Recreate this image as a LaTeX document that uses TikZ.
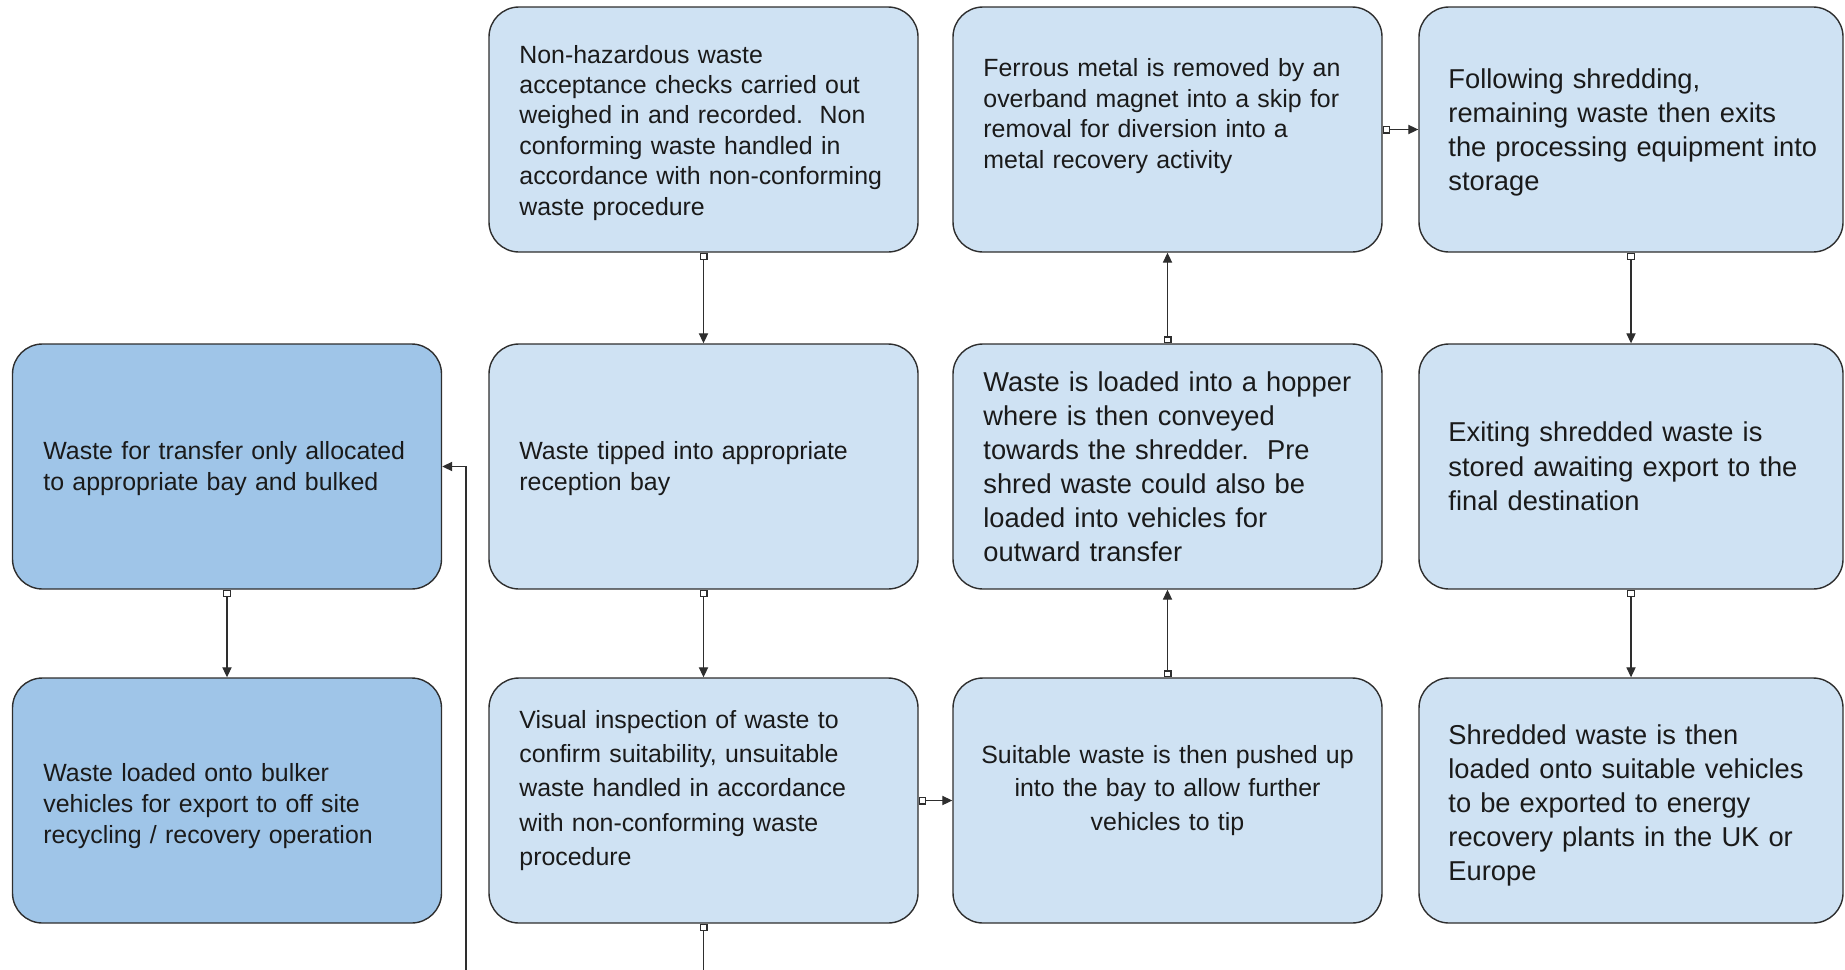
\documentclass[tikz,border=0pt]{standalone}
\usepackage{fontspec}
\setmainfont{Liberation Sans}
\usetikzlibrary{arrows.meta}
\definecolor{lightblue}{HTML}{CFE2F3}
\definecolor{midblue}{HTML}{9FC5E8}
\definecolor{edgegray}{HTML}{2E2E2E}
\definecolor{textgray}{HTML}{1A1A1A}
\tikzset{
  box/.style={draw=edgegray, line width=0.7pt, rounded corners=15pt,
    minimum width=214.5pt, minimum height=122.5pt, inner sep=0pt, fill=lightblue},
  boxfour/.style={box, minimum width=212pt},
  txtsmall/.style={font={\fontsize{12.45pt}{#1}\selectfont}, text width=200pt,
    align=left, anchor=base west, inner sep=0pt, text=textgray},
  txtbig/.style={font={\fontsize{13.65pt}{#1}\selectfont}, text width=200pt,
    align=left, anchor=base west, inner sep=0pt, text=textgray},
  conn/.style={draw=edgegray, line width=0.6pt,
    {Square[length=3.5pt,width=4pt,fill=white]}-{Triangle[length=5pt,width=4.6pt]}},
}
\begin{document}
\begin{tikzpicture}[x=0.5pt,y=-0.5pt]
\useasboundingbox (0,0) rectangle (1845,969);
\clip (0,0) rectangle (1845,969);

% boxes
\node[box] (nh) at (703.5,129.5) {};
\node[box] (fe) at (1167.5,129.5) {};
\node[boxfour] (fo) at (1631,129.5) {};
\node[box, fill=midblue] (tr) at (227,466.5) {};
\node[box] (ti) at (703.5,466.5) {};
\node[box] (ho) at (1167.5,466.5) {};
\node[boxfour] (ex) at (1631,466.5) {};
\node[box, fill=midblue] (bu) at (227,800.5) {};
\node[box] (vi) at (703.5,800.5) {};
\node[box] (su) at (1167.5,800.5) {};
\node[boxfour] (sh) at (1631,800.5) {};

% texts
\node[txtsmall=15.2pt] (tnh) at (519,63) {Non-hazardous waste\\acceptance checks carried out\\weighed in and recorded.\ \ Non\\conforming waste handled in\\accordance with non-conforming\\waste procedure};
\node[txtsmall=15.3pt] (tfe) at (983,76.5) {Ferrous metal is removed by an\\overband magnet into a skip for\\removal for diversion into a\\metal recovery activity};
\node[txtbig=17.1pt] (tfo) at (1448,88) {Following shredding,\\remaining waste then exits\\the processing equipment into\\storage};
\node[txtsmall=15.5pt] (ttr) at (43,459) {Waste for transfer only allocated\\to appropriate bay and bulked};
\node[txtsmall=15.5pt] (tti) at (519,459) {Waste tipped into appropriate\\reception bay};
\node[txtbig=17.05pt] (tho) at (983,391) {Waste is loaded into a hopper\\where is then conveyed\\towards the shredder.\ \ Pre\\shred waste could also be\\loaded into vehicles for\\outward transfer};
\node[txtbig=17.25pt] (tex) at (1448,441.5) {Exiting shredded waste is\\stored awaiting export to the\\final destination};
\node[txtsmall=15.5pt] (tbu) at (43,781) {Waste loaded onto bulker\\vehicles for export to off site\\recycling / recovery operation};
\node[txtsmall=17.1pt] (tvi) at (519,728.5) {Visual inspection of waste to\\confirm suitability, unsuitable\\waste handled in accordance\\with non-conforming waste\\procedure};
\node[txtsmall=16.8pt, align=center, anchor=base] (tsu) at (1167.5,763) {Suitable waste is then pushed up\\into the bay to allow further\\vehicles to tip};
\node[txtbig=17.05pt] (tsh) at (1448,744) {Shredded waste is then\\loaded onto suitable vehicles\\to be exported to energy\\recovery plants in the UK or\\Europe};

% connectors
\draw[conn] (nh.south) -- (ti.north);
\draw[conn] (ti.south) -- (vi.north);
\draw[conn] (vi.east) -- (su.west);
\draw[conn] (su.north) -- (ho.south);
\draw[conn] (ho.north) -- (fe.south);
\draw[conn] (fe.east) -- (fo.west);
\draw[conn] (fo.south) -- (ex.north);
\draw[conn] (ex.south) -- (sh.north);
\draw[conn] (tr.south) -- (bu.north);
\coordinate (jb) at (703.5,1010);
\coordinate (jc) at (466,1010);
\draw[conn] (vi.south) -- (jb) -- (jc) |- (tr.east);
\end{tikzpicture}
\end{document}
